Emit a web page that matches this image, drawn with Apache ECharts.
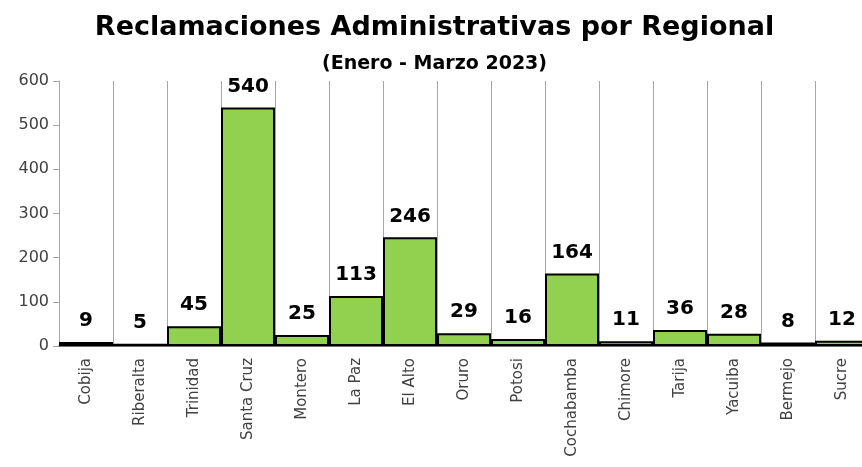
<!DOCTYPE html>
<html><head><meta charset="utf-8">
<script src="https://cdn.jsdelivr.net/npm/echarts@6/dist/echarts.min.js"></script>
<style>html,body{margin:0;padding:0;background:#fff;overflow:hidden}#c{width:869px;height:467px}</style>
</head><body><div id="c"></div>
<script>
const categories = ["Cobija","Riberalta","Trinidad","Santa Cruz","Montero","La Paz","El Alto","Oruro","Potosi","Cochabamba","Chimore","Tarija","Yacuiba","Bermejo","Sucre"];
const values = [9,5,45,540,25,113,246,29,16,164,11,36,28,8,12];
const yTicks = [0,100,200,300,400,500,600];
const titleText = "Reclamaciones Administrativas por Regional";
const subtitleText = "(Enero - Marzo 2023)";

const chart = echarts.init(document.getElementById('c'));
const font = "'DejaVu Sans', sans-serif";
chart.setOption({
  animation:false,
  title:[
    {text:titleText,left:'center',top:9,textStyle:{fontFamily:font,fontWeight:'bold',fontSize:27,color:'#000'}},
    {text:subtitleText,left:'center',top:50,textStyle:{fontFamily:font,fontWeight:'bold',fontSize:19,color:'#000'}}
  ],
  grid:{left:59,top:81,height:265,right:0},
  xAxis:{type:'category',data:categories,
    axisLine:{lineStyle:{color:'#404040',width:1.5}},
    axisTick:{show:false},
    splitLine:{show:true,lineStyle:{color:'#a6a6a6',width:1}},
    axisLabel:{rotate:90,interval:0,fontFamily:font,fontSize:15,color:'#404040',margin:12}},
  yAxis:{type:'value',min:yTicks[0],max:yTicks[yTicks.length-1],interval:100,
    axisLine:{show:true,lineStyle:{color:'#a6a6a6'}},
    axisTick:{show:true,length:6,lineStyle:{color:'#a6a6a6'}},
    splitLine:{show:false},
    axisLabel:{fontFamily:font,fontSize:16,color:'#404040',margin:10}},
  series:[{type:'bar',data:values,barCategoryGap:'0%',
    itemStyle:{color:'#92d050',borderColor:'#000',borderWidth:2},
    label:{show:true,position:'top',distance:11,fontFamily:font,fontWeight:'bold',fontSize:20,color:'#000'}}]
});
</script></body></html>
